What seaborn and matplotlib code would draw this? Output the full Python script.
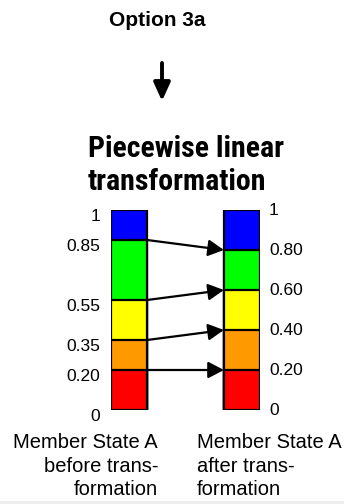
import numpy as np
import pandas as pd
import matplotlib
matplotlib.use("Agg")
import matplotlib.pyplot as plt
import matplotlib.transforms as mtransforms
from matplotlib.patches import FancyArrowPatch, Rectangle
import seaborn as sns

# ---- data ----
stages = ["before", "after"]
bands = ["blue", "green", "yellow", "orange", "red"]
band_colors = ["#0000FF", "#00FF00", "#FFFF00", "#FF9900", "#FF0000"]
before_tops = [1.0, 0.85, 0.55, 0.35, 0.20]
after_tops = [1.0, 0.80, 0.60, 0.40, 0.20]
before_labels = ["1", "0.85", "0.55", "0.35", "0.20", "0"]
after_labels = ["1", "0.80", "0.60", "0.40", "0.20", "0"]
before_ticks = [1.0, 0.85, 0.55, 0.35, 0.20, 0.0]
after_ticks = [1.0, 0.80, 0.60, 0.40, 0.20, 0.0]
arrow_from = [0.85, 0.55, 0.35, 0.20]
arrow_to = [0.80, 0.60, 0.40, 0.20]
title_top = "Option 3a"
title_main = ["Piecewise linear", "transformation"]
left_caption = ["Member State A", "before trans-", "formation"]
right_caption = ["Member State A", "after trans-", "formation"]

sns.set_theme(style="white")
plt.rcParams["font.family"] = ["Liberation Sans", "DejaVu Sans"]
plt.rcParams["text.color"] = "black"

W, H = 344, 504
fig = plt.figure(figsize=(W / 100, H / 100), dpi=100)
fig.patch.set_facecolor("white")

df = pd.DataFrame({
    "stage": [s for b in range(len(bands)) for s in stages],
    "band": [bands[b] for b in range(len(bands)) for _ in stages],
    "top": [v for b in range(len(bands)) for v in (before_tops[b], after_tops[b])],
})

ax = fig.add_axes([111 / W, 94 / H, 149 / W, 200 / H])
sns.barplot(data=df, x="stage", y="top", hue="band", hue_order=bands,
            order=stages, palette=band_colors, dodge=False, saturation=1,
            width=0.32, edgecolor="black", linewidth=1.6, legend=False, ax=ax)
ax.set_xlim(-0.16, 1.16)
ax.set_ylim(0, 1)
ax.set_xlabel("")
ax.set_ylabel("")
ax.set_xticks([])
ax.set_yticks([])
for sp in ax.spines.values():
    sp.set_visible(False)
ax.patch.set_alpha(0)

# tick labels
ytrans = ax.get_yaxis_transform()
left_tr = mtransforms.offset_copy(ytrans, fig=fig, x=0, y=-5.0, units="points")
right_tr = mtransforms.offset_copy(ytrans, fig=fig, x=0, y=-0.7, units="points")
for v, lab in zip(before_ticks, before_labels):
    ax.text(-11 / 149, v, lab, transform=left_tr, ha="right", va="center",
            fontsize=12.5, color="black", clip_on=False)
for v, lab in zip(after_ticks, after_labels):
    ax.text(1 + 9 / 149, v, lab, transform=right_tr, ha="left", va="center",
            fontsize=12.5, color="black", clip_on=False)

# mapping arrows
for a, b in zip(arrow_from, arrow_to):
    ax.annotate("", xy=(1 - 0.16, b), xytext=(0.16, a),
                arrowprops=dict(arrowstyle="-|>,head_length=0.95,head_width=0.5",
                                mutation_scale=10, color="black", lw=1.6,
                                shrinkA=0, shrinkB=0),
                annotation_clip=False)

# titles
fig.text(157 / W, 1 - 20 / H, title_top, ha="center", va="center",
         fontsize=15, fontweight="bold", color="black")
fig.add_artist(FancyArrowPatch((162 / W, 1 - 63 / H), (162 / W, 1 - 101 / H),
                               transform=fig.transFigure,
                               arrowstyle="-|>,head_length=1.1,head_width=0.5",
                               mutation_scale=10, color="black", lw=2.8,
                               shrinkA=0, shrinkB=0))
for i, line in enumerate(title_main):
    fig.text(88 / W, 1 - (157 + 33 * i) / H, line, ha="left", va="baseline",
             fontsize=21.5, fontweight="bold", color="black",
             family=["Roboto Condensed", "Liberation Sans", "DejaVu Sans"])

# captions
for i, line in enumerate(left_caption):
    fig.text(158 / W, 1 - (448 + 23.5 * i) / H, line, ha="right", va="baseline",
             fontsize=14.5, color="black")
for i, line in enumerate(right_caption):
    fig.text(197 / W, 1 - (448 + 23.5 * i) / H, line, ha="left", va="baseline",
             fontsize=14.5, color="black")

fig.add_artist(Rectangle((0, 0), 1, 3 / H, transform=fig.transFigure,
                         facecolor="#EEEEEE", edgecolor="none"))

fig.savefig("out.png", dpi=100)
